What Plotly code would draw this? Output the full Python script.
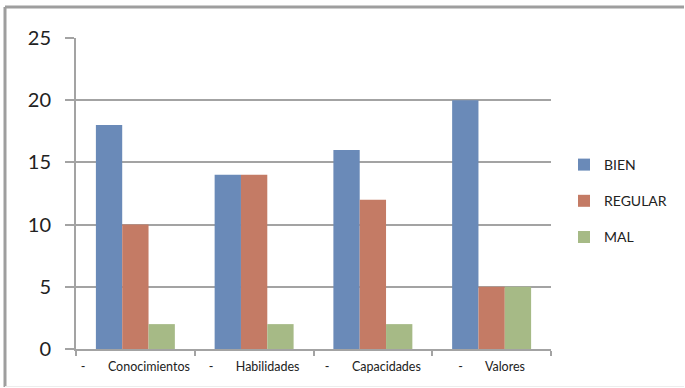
import plotly.graph_objects as go

NB = "\u00a0"
categories = ["Conocimientos", "Habilidades", "Capacidades", "Valores"]
series_names = ["BIEN", "REGULAR", "MAL"]
bien = [18, 14, 16, 20]
regular = [10, 14, 12, 5]
mal = [2, 2, 2, 5]
colors = ["#6A8AB8", "#C47B65", "#A6BA86"]
y_ticks = [0, 5, 10, 15, 20, 25]

W, H = 685, 388
L, R, T, B = 76, 134, 38, 39

def cx(p):
    return p / W

def cy(p):
    return 1 - p / H

labels = ["-" + NB * 7 + c for c in categories]

fig = go.Figure()
for name, vals, col in zip(series_names, [bien, regular, mal], colors):
    fig.add_trace(go.Bar(x=labels, y=vals, name=name, marker_color=col,
                         marker_line_width=0, legendgroup=name))

grid = "#A3A3A3"
fig.update_layout(
    width=W, height=H, autosize=False,
    margin=dict(l=L, r=R, t=T, b=B, autoexpand=False),
    paper_bgcolor="white", plot_bgcolor="white",
    barmode="group", bargap=0.335, bargroupgap=0,
    font=dict(family="Lato, Open Sans, sans-serif", color="#222222"),
    showlegend=True,
    legend=dict(xref="container", yref="container", x=cx(564), y=cy(149),
                xanchor="left", yanchor="top",
                font=dict(size=14), itemwidth=30, tracegroupgap=15,
                bgcolor="rgba(0,0,0,0)"),
    xaxis=dict(showline=True, linecolor=grid, linewidth=2,
               ticks="outside", tickson="boundaries", ticklen=5,
               tickcolor=grid, tickwidth=2, tickfont=dict(size=12.5),
               ticklabelstandoff=5,
               tickangle=0, automargin=False, showgrid=False),
    yaxis=dict(range=[0, 25], tickvals=y_ticks, showline=True,
               linecolor=grid, linewidth=2, showgrid=True, gridcolor=grid,
               gridwidth=2, ticks="outside", ticklen=9, tickcolor=grid,
               tickwidth=2, tickfont=dict(size=20), ticklabelstandoff=10,
               automargin=False, zeroline=False),
    shapes=[
        dict(type="line", xref="paper", yref="paper",
             x0=(5 - L) / (W - L - R), x1=(684 - L) / (W - L - R),
             y0=(H - B - 7) / (H - T - B), y1=(H - B - 7) / (H - T - B),
             line=dict(color="#9E9E9E", width=3)),
        dict(type="line", xref="paper", yref="paper",
             x0=(5 - L) / (W - L - R), x1=(5 - L) / (W - L - R),
             y0=(H - B - 7) / (H - T - B), y1=(H - B - 387) / (H - T - B),
             line=dict(color="#9E9E9E", width=3)),
        dict(type="line", xref="paper", yref="paper",
             x0=(5 - L) / (W - L - R), x1=(684 - L) / (W - L - R),
             y0=(H - B - 386.5) / (H - T - B), y1=(H - B - 386.5) / (H - T - B),
             line=dict(color="#EDEDED", width=1)),
    ],
)

fig.write_html("out.html", config={"responsive": False})
